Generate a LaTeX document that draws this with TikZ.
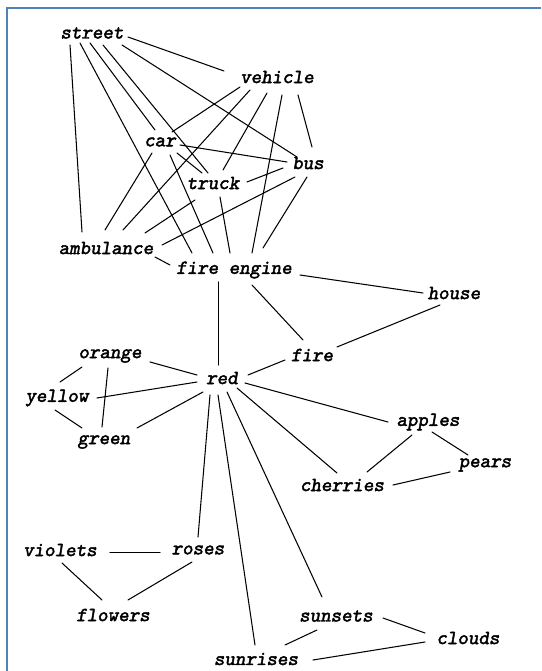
\documentclass[tikz,border=0pt]{standalone}
\usepackage{fontspec}
\newfontfamily\wordfont{lmmonoslant10-regular.otf}[FakeBold=2.2]
\definecolor{frameblue}{HTML}{4F81BD}
% link two words; each end is offset from the word's centre
\newcommand\lnk[4]{\draw[link] ([shift={(#2)}]#1.center) -- ([shift={(#4)}]#3.center);}
\begin{document}
\begin{tikzpicture}[x=1pt,y=-1pt,
  word/.style={inner sep=0pt, font=\wordfont\fontsize{20}{22}\selectfont},
  link/.style={line width=1.05pt, line cap=round}]
\useasboundingbox (0,0) rectangle (541,671);
\fill[white] (0,0) rectangle (541,671);
\draw[frameblue, line width=2pt] (6.5,671) -- (6.5,8.5) -- (541,8.5);

% words
\node[word] (street)     at (92,33)   {street};
\node[word] (vehicle)    at (277,77)  {vehicle};
\node[word] (car)        at (160,142) {car};
\node[word] (bus)        at (308,163) {bus};
\node[word] (truck)      at (213,183) {truck};
\node[word] (ambulance)  at (106,248) {ambulance};
\node[word] (fireengine) at (234,270) {fire engine};
\node[word] (house)      at (454,293) {house};
\node[word] (fire)       at (312,355) {fire};
\node[word] (orange)     at (110,356) {orange};
\node[word] (red)        at (222,378) {red};
\node[word] (yellow)     at (57,398)  {yellow};
\node[word] (green)      at (104,442) {green};
\node[word] (apples)     at (428,422) {apples};
\node[word] (pears)      at (485,465) {pears};
\node[word] (cherries)   at (342,485) {cherries};
\node[word] (violets)    at (60,550)  {violets};
\node[word] (roses)      at (198,550) {roses};
\node[word] (flowers)    at (113,615) {flowers};
\node[word] (sunsets)    at (336,616) {sunsets};
\node[word] (clouds)     at (468,638) {clouds};
\node[word] (sunrises)   at (256,659) {sunrises};

% street
\lnk{street}{36,4}{vehicle}{-53,-6}
\lnk{street}{-22,12}{ambulance}{-24,-16}
\lnk{street}{-12,10}{fireengine}{-42,-17}
\lnk{street}{-2,10}{car}{-5,-12}
\lnk{street}{11,12}{truck}{-5,-10}
\lnk{street}{30,12}{bus}{-11,-6}
% vehicle
\lnk{vehicle}{-37,10}{car}{12,-10}
\lnk{vehicle}{-27,13}{ambulance}{17,-18}
\lnk{vehicle}{-10,16}{truck}{10,-13}
\lnk{vehicle}{5,18}{fireengine}{18,-17}
\lnk{vehicle}{21,18}{bus}{4,-16}
% car
\lnk{car}{20,3}{bus}{-21,-1}
\lnk{car}{17,11}{truck}{-11,-10}
\lnk{car}{-8,11}{ambulance}{-1,-18}
\lnk{car}{10,13}{fireengine}{-21,-17}
% truck
\lnk{truck}{34,-1}{bus}{-25,5}
\lnk{truck}{-18,17}{ambulance}{39,-15}
\lnk{truck}{7,14}{fireengine}{-4,-17}
% bus
\lnk{bus}{-13,14}{ambulance}{56,-3}
\lnk{bus}{-1,14}{fireengine}{29,-22}
% fire engine
\lnk{ambulance}{49,9}{fireengine}{-64,-5}
\lnk{fireengine}{66,5}{house}{-31,0}
\lnk{fireengine}{18,15}{fire}{-9,-15}
\lnk{fireengine}{-15.5,12}{red}{-3.5,-13}
\lnk{house}{-14,12}{fire}{25,-8}
% red
\lnk{red}{26,-3}{fire}{-27,5}
\lnk{orange}{40,6}{red}{-25,-3}
\lnk{yellow}{40,0}{red}{-25,4}
\lnk{green}{33,-14}{red}{-19,14}
\lnk{red}{-12,17}{roses}{0,-13}
\lnk{red}{-4,17}{sunrises}{-1,-14}
\lnk{red}{5,14}{sunsets}{-14,-19}
\lnk{red}{15,10}{cherries}{-5,-12}
\lnk{red}{23,5}{apples}{-40,0}
% colours
\lnk{orange}{-28,11}{yellow}{3,-16}
\lnk{orange}{-2,12}{green}{-2,-15}
\lnk{yellow}{-2,12}{green}{-22,-14}
% fruit
\lnk{apples}{-16,13}{cherries}{25,-13}
\lnk{apples}{4,10}{pears}{-17,-10}
\lnk{cherries}{51,0}{pears}{-35,7}
% flowers
\lnk{violets}{50,2.5}{roses}{-38,2.5}
\lnk{violets}{2,13}{flowers}{-11,-15}
\lnk{roses}{-6,12}{flowers}{15,-15}
% sky
\lnk{sunsets}{47,2}{clouds}{-43,-5}
\lnk{sunsets}{-19,14}{sunrises}{29,-14}
\lnk{sunrises}{57,1}{clouds}{-43,4}
\end{tikzpicture}
\end{document}
